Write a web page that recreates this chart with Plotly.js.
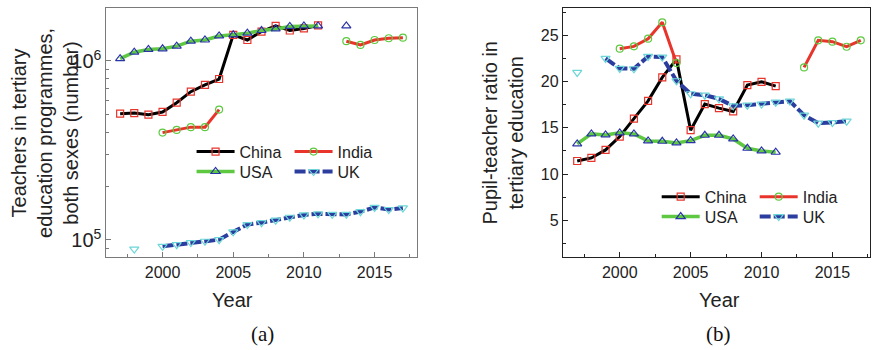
<!DOCTYPE html>
<html>
<head>
<meta charset="utf-8">
<script src="https://cdn.plot.ly/plotly-3.0.1.min.js"></script>
<style>
  html, body { margin: 0; padding: 0; background: #fff; }
  #chart { width: 873px; height: 350px; }
</style>
</head>
<body>
<div id="chart"></div>
<script>
// Years covered by both panels
const years = [1997, 1998, 1999, 2000, 2001, 2002, 2003, 2004, 2005, 2006, 2007,
               2008, 2009, 2010, 2011, 2012, 2013, 2014, 2015, 2016, 2017];

// (a) Teachers in tertiary education programmes, both sexes (number)
const chinaTeachers = [508e3, 512e3, 501e3, 519e3, 585e3, 674e3, 735e3, 793e3, 1.40e6, 1.31e6, 1.46e6,
                       1.57e6, 1.48e6, 1.52e6, 1.58e6, null, null, null, null, null, null];
const indiaTeachers = [null, null, null, 398e3, 412e3, 427e3, 427e3, 535e3, null, null, null,
                       null, null, null, null, null, 1.29e6, 1.23e6, 1.31e6, 1.34e6, 1.35e6];
const usaTeachers   = [1.03e6, 1.12e6, 1.16e6, 1.17e6, 1.21e6, 1.29e6, 1.31e6, 1.38e6, 1.40e6, 1.43e6, 1.48e6,
                       1.51e6, 1.56e6, 1.57e6, 1.57e6, null, 1.57e6, null, null, null, null];
const ukTeachers    = [null, 89e3, null, 92.2e3, 94.1e3, 96.7e3, 98.4e3, 100.4e3, 111e3, 122e3, 125e3,
                       129e3, 134e3, 138e3, 140e3, 139e3, 139e3, 144e3, 152e3, 148e3, 151e3];

// (b) Pupil-teacher ratio in tertiary education
const chinaRatio = [11.41, 11.74, 12.61, 14.06, 16.01, 17.93, 20.47, 22.43, 14.75, 17.58, 17.14,
                    16.78, 19.64, 20.0, 19.53, null, null, null, null, null, null];
const indiaRatio = [null, null, null, 23.59, 23.84, 24.67, 26.45, 22.03, null, null, null,
                    null, null, null, null, null, 21.56, 24.49, 24.35, 23.80, 24.49];
const usaRatio   = [13.26, 14.35, 14.24, 14.46, 14.35, 13.59, 13.55, 13.37, 13.62, 14.2, 14.2,
                    13.8, 12.79, 12.5, 12.36, null, null, null, null, null, null];
const ukRatio    = [21.01, null, 22.53, 21.45, 21.41, 22.75, 22.68, 20.11, 18.70, 18.55, 18.15,
                    17.39, 17.46, 17.58, 17.79, 17.90, 16.38, 15.51, 15.58, 15.73, null];

const countries = ['China', 'India', 'USA', 'UK'];

// Line / marker style per country
const styles = {
  China: { line: { color: '#000000', width: 3 },
           marker: { symbol: 'square-open', color: '#e8342b', size: 7, line: { width: 1.2 } } },
  India: { line: { color: '#e8342b', width: 3 },
           marker: { symbol: 'circle-open', color: '#5cc93f', size: 7, line: { width: 1.2 } } },
  USA:   { line: { color: '#5ec840', width: 3.5 },
           marker: { symbol: 'triangle-up-open', color: '#2a35a8', size: 8, line: { width: 1.2 } } },
  UK:    { line: { color: '#2b3d9e', width: 4, dash: '11px,3px' },
           marker: { symbol: 'triangle-down-open', color: '#6cd6d8', size: 8, line: { width: 1.2 } } }
};

const teacherSeries = { China: chinaTeachers, India: indiaTeachers, USA: usaTeachers, UK: ukTeachers };
const ratioSeries   = { China: chinaRatio,    India: indiaRatio,    USA: usaRatio,    UK: ukRatio };

// Each panel has its own two-row legend: row 1 China/India, row 2 USA/UK
const leftLegend  = { China: 'legend',  India: 'legend',  USA: 'legend2', UK: 'legend2' };
const rightLegend = { China: 'legend3', India: 'legend3', USA: 'legend4', UK: 'legend4' };

const traces = [];
countries.forEach(c => {
  traces.push({
    type: 'scatter', mode: 'lines+markers', name: c,
    x: years, y: teacherSeries[c], xaxis: 'x', yaxis: 'y',
    line: styles[c].line, marker: styles[c].marker,
    legend: leftLegend[c], connectgaps: false
  });
});
countries.forEach(c => {
  traces.push({
    type: 'scatter', mode: 'lines+markers', name: c,
    x: years, y: ratioSeries[c], xaxis: 'x2', yaxis: 'y2',
    line: styles[c].line, marker: styles[c].marker,
    legend: rightLegend[c], connectgaps: false
  });
});

const font = 'Liberation Sans, Arial, sans-serif';
const tickFont = { family: font, size: 16, color: '#222' };
const titleFont = { family: font, size: 20, color: '#222' };

function legendAt(x, y) {
  return {
    orientation: 'h', x: x, y: y, xanchor: 'left', yanchor: 'middle',
    xref: 'paper', yref: 'paper',
    bgcolor: 'rgba(0,0,0,0)', borderwidth: 0,
    itemwidth: 38, entrywidth: 45, entrywidthmode: 'pixels',
    tracegroupgap: 0, traceorder: 'normal',
    font: { family: font, size: 16, color: '#222' },
    itemclick: false, itemdoubleclick: false
  };
}

function xAxis(domain, range, anchor, lineColor) {
  return {
    domain: domain, range: range, anchor: anchor,
    showgrid: false, zeroline: false,
    showline: true, mirror: true, linecolor: lineColor, linewidth: 1.4,
    ticks: 'inside', ticklen: 5, tickwidth: 1, tickcolor: lineColor,
    tick0: 2000, dtick: 5, tickfont: tickFont,
    minor: { dtick: 2.5, tick0: 2000, ticks: 'inside', ticklen: 3, tickcolor: lineColor, showgrid: false }
  };
}

function label(text, x, y, opts) {
  return Object.assign({
    text: text, xref: 'paper', yref: 'paper', x: x, y: y,
    xanchor: 'center', yanchor: 'middle', showarrow: false, font: titleFont
  }, opts || {});
}

const layout = {
  width: 873, height: 350,
  margin: { l: 106, r: 3, t: 8, b: 93 },
  paper_bgcolor: '#fff', plot_bgcolor: '#fff',
  font: { family: font, color: '#222' },
  showlegend: true,
  xaxis: xAxis([0, 0.4071], [1996, 2018], 'y', '#7a7a7a'),
  yaxis: {
    domain: [0, 1], anchor: 'x', type: 'log', range: [4.905, 6.296],
    showgrid: false, zeroline: false,
    showline: true, mirror: true, linecolor: '#7a7a7a', linewidth: 1.4,
    ticks: 'inside', ticklen: 5, tickwidth: 1, tickcolor: '#7a7a7a',
    dtick: 1, exponentformat: 'power', tickfont: tickFont,
    minor: { dtick: 'D1', ticks: 'inside', ticklen: 3, tickcolor: '#7a7a7a', showgrid: false }
  },
  xaxis2: xAxis([0.5982, 1], [1996, 2017.65], 'y2', '#222'),
  yaxis2: {
    domain: [0, 1], anchor: 'x2', range: [1, 28],
    showgrid: false, zeroline: false,
    showline: true, mirror: true, linecolor: '#222', linewidth: 1.2,
    ticks: 'inside', ticklen: 5, tickwidth: 1, tickcolor: '#222',
    tick0: 0, dtick: 5, tickfont: tickFont,
    minor: { dtick: 2.5, tick0: 0, ticks: 'inside', ticklen: 3, tickcolor: '#222', showgrid: false }
  },
  legend:  legendAt(0.112, 0.423),
  legend2: legendAt(0.112, 0.343),
  legend3: legendAt(0.7208, 0.242),
  legend4: legendAt(0.7208, 0.162),
  annotations: [
    // axis titles
    label('Teachers in tertiary<br>education programmes,<br>both sexes (number)', -0.0805, 0.5,
          { textangle: -90 }),
    label('Pupil-teacher ratio in<br>tertiary education', 0.5196, 0.5, { textangle: -90 }),
    label('Year', 0.1662, -0.1727),
    label('Year', 0.8024, -0.1727),
    // panel tags
    label('(a)', 0.2042, -0.309,
          { font: { family: 'Liberation Serif, Times New Roman, serif', size: 21, color: '#111' } }),
    label('(b)', 0.8017, -0.309,
          { font: { family: 'Liberation Serif, Times New Roman, serif', size: 21, color: '#111' } })
  ]
};

Plotly.newPlot('chart', traces, layout, { staticPlot: true, displayModeBar: false });
</script>
</body>
</html>
